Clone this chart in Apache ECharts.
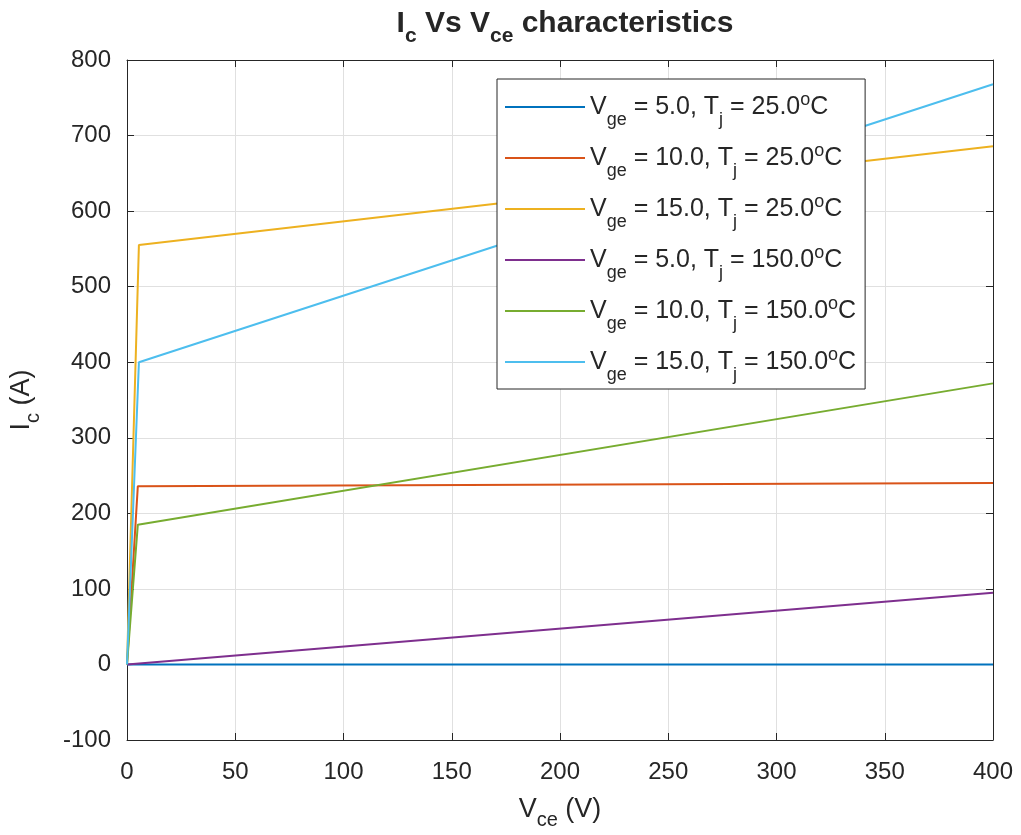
<!DOCTYPE html>
<html>
<head>
<meta charset="utf-8">
<script src="https://cdn.jsdelivr.net/npm/echarts@6/dist/echarts.min.js"></script>
<style>
html,body{margin:0;padding:0;background:#fff;}
#chart{width:1021px;height:835px;}
</style>
</head>
<body>
<div id="chart"></div>
<script>
// ---- data ----
const vgeValues = [5.0, 10.0, 15.0, 5.0, 10.0, 15.0];
const tjValues = [25.0, 25.0, 25.0, 150.0, 150.0, 150.0];
const colors = ['#0072BD', '#D95319', '#EDB120', '#7E2F8E', '#77AC30', '#4DBEEE'];

const vce1 = [0, 400];           const ic1 = [0, 0];
const vce2 = [0, 5, 400];        const ic2 = [0, 236, 240];
const vce3 = [0, 5.5, 400];      const ic3 = [0, 555, 686];
const vce4 = [0, 400];           const ic4 = [0, 95];
const vce5 = [0, 5, 400];        const ic5 = [0, 185, 372];
const vce6 = [0, 5.5, 400];      const ic6 = [0, 400, 768];

const xTicks = [0, 50, 100, 150, 200, 250, 300, 350, 400];
const yTicks = [-100, 0, 100, 200, 300, 400, 500, 600, 700, 800];

const vceSets = [vce1, vce2, vce3, vce4, vce5, vce6];
const icSets = [ic1, ic2, ic3, ic4, ic5, ic6];

const FONT = 'Liberation Sans, Arial, Helvetica, sans-serif';
const TXT = '#262626';

const names = vgeValues.map((v, i) => 'Vge = ' + v.toFixed(1) + ', Tj = ' + tjValues[i].toFixed(1) + '°C');

const series = names.map((n, i) => ({
  name: n,
  type: 'line',
  symbol: 'none',
  animation: false,
  color: colors[i],
  lineStyle: { width: 2, color: colors[i] },
  data: vceSets[i].map((x, j) => [x, icSets[i][j]])
}));

function richSet(size, subSize, subPad, supPad, bold) {
  const w = bold ? 'bold' : 'normal';
  return {
    n: { fontSize: size, fontFamily: FONT, color: TXT, fontWeight: w, lineHeight: 32 },
    s: { fontSize: subSize, fontFamily: FONT, color: TXT, fontWeight: w, padding: [subPad, 0, 0, 0], lineHeight: 32 },
    p: { fontSize: subSize, fontFamily: FONT, color: TXT, fontWeight: w, padding: [0, 0, supPad, 0], lineHeight: 32 }
  };
}

const chart = echarts.init(document.getElementById('chart'), null, { renderer: 'canvas' });

const axisLineStyle = { show: true, onZero: false, lineStyle: { color: TXT, width: 1 } };
const tickStyle = { show: true, inside: true, length: 7, lineStyle: { color: TXT } };

chart.setOption({
  backgroundColor: '#fff',
  animation: false,
  title: {
    text: '{n|I}{s|c}{n| Vs V}{s|ce}{n| characteristics}',
    left: 560,
    top: 3,
    textAlign: 'center',
    textStyle: { fontSize: 30, fontWeight: 'bold', fontFamily: FONT, color: TXT, rich: richSet(30, 21, 24, 10, true) }
  },
  grid: { left: 127, right: 28, top: 60, bottom: 95, show: false, containLabel: false, outerBoundsMode: 'none' },
  legend: {
    orient: 'vertical',
    left: 497,
    top: 79,
    padding: [6, 9, 5, 8],
    itemWidth: 80,
    itemHeight: 2,
    itemGap: 7,
    icon: 'rect',
    backgroundColor: '#fff',
    borderColor: TXT,
    borderWidth: 1,
    borderRadius: 0,
    data: names,
    formatter: function (name) {
      const i = names.indexOf(name);
      return '{n|V}{s|ge}{n| = ' + vgeValues[i].toFixed(1) + ', T}{s|j}{n| = ' + tjValues[i].toFixed(1) + '}{p|o}{n|C}';
    },
    textStyle: { fontSize: 25, fontFamily: FONT, color: TXT, rich: richSet(25, 18, 26, 14, false) }
  },
  xAxis: [{
    type: 'value', min: 0, max: 400, interval: 50,
    axisLine: axisLineStyle, axisTick: tickStyle,
    axisLabel: { fontSize: 24, fontFamily: FONT, color: TXT, margin: 20,
      formatter: v => xTicks.includes(v) ? String(v) : '' },
    splitLine: { show: true, lineStyle: { color: '#e0e0e0', width: 1 } },
    name: '{n|V}{s|ce}{n| (V)}',
    nameLocation: 'middle',
    nameGap: 47,
    nameTextStyle: { fontSize: 27, fontFamily: FONT, color: TXT, rich: richSet(27, 20, 22, 10, false) }
  }, {
    type: 'value', min: 0, max: 400, interval: 50, position: 'top',
    axisLine: axisLineStyle, axisTick: tickStyle,
    axisLabel: { show: false }, splitLine: { show: false }
  }],
  yAxis: [{
    type: 'value', min: -100, max: 800, interval: 100,
    axisLine: axisLineStyle, axisTick: tickStyle,
    axisLabel: { fontSize: 24, fontFamily: FONT, color: TXT, margin: 16,
      formatter: v => yTicks.includes(v) ? String(v) : '' },
    splitLine: { show: true, lineStyle: { color: '#e0e0e0', width: 1 } },
    name: '{n|I}{s|c}{n| (A)}',
    nameLocation: 'middle',
    nameGap: 89,
    nameTextStyle: { fontSize: 27, fontFamily: FONT, color: TXT, rich: richSet(27, 20, 22, 10, false) }
  }, {
    type: 'value', min: -100, max: 800, interval: 100, position: 'right',
    axisLine: axisLineStyle, axisTick: tickStyle,
    axisLabel: { show: false }, splitLine: { show: false }
  }],
  series: series
});
</script>
</body>
</html>
